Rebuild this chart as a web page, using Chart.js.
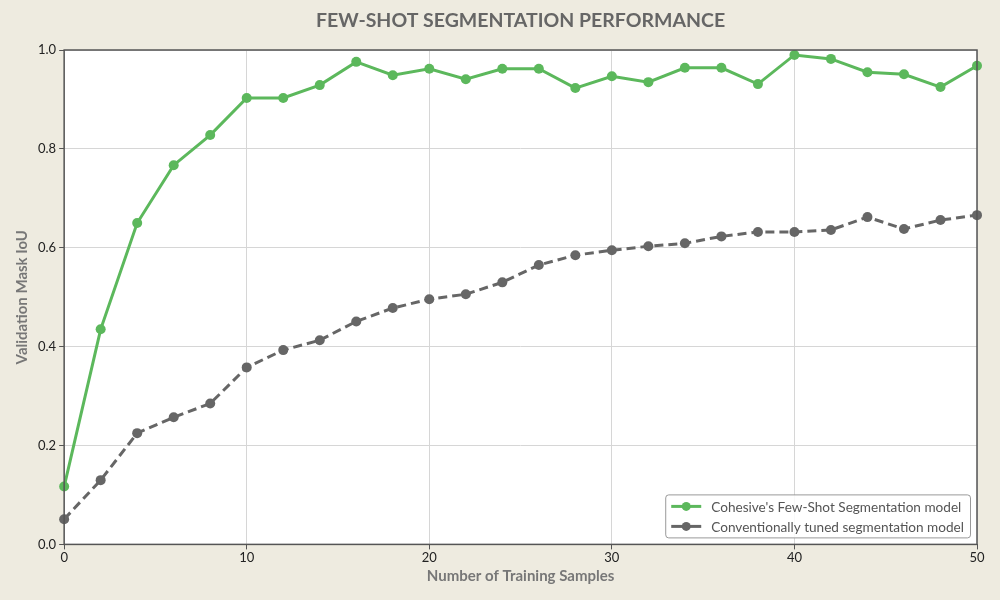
<!DOCTYPE html>
<html>
<head>
<meta charset="utf-8">
<script src="https://cdn.jsdelivr.net/npm/chart.js@4.4.1/dist/chart.umd.min.js"></script>
<style>
  html, body { margin: 0; padding: 0; background: #eeebe0; }
  #wrap { width: 1000px; height: 600px; }
</style>
</head>
<body>
<div id="wrap"><canvas id="chart"></canvas></div>
<script>
const samples = [0, 2, 4, 6, 8, 10, 12, 14, 16, 18, 20, 22, 24, 26, 28, 30, 32, 34, 36, 38, 40, 42, 44, 46, 48, 50];
const fewShot = [0.117, 0.435, 0.650, 0.767, 0.828, 0.903, 0.903, 0.929, 0.976, 0.949, 0.962, 0.941, 0.962,
    0.962, 0.923, 0.947, 0.935, 0.964, 0.964, 0.931, 0.990, 0.982, 0.955, 0.951, 0.925, 0.968];
const conventional = [0.051, 0.130, 0.225, 0.257, 0.285, 0.358, 0.393, 0.413, 0.451, 0.478, 0.496, 0.506, 0.530,
    0.565, 0.585, 0.595, 0.603, 0.609, 0.623, 0.632, 0.632, 0.636, 0.662, 0.638, 0.656, 0.666];
const seriesNames = ["Cohesive's Few-Shot Segmentation model", 'Conventionally tuned segmentation model'];
const chartTitle = 'FEW-SHOT SEGMENTATION PERFORMANCE';

const GREEN = '#5cb85c';
const GREY = '#666666';
const FONT = 'Lato, "Open Sans", sans-serif';

const toPoints = (ys) => samples.map((x, i) => ({ x: x, y: ys[i] }));

// white plot area, dark frame and a title centred over the plot
const plotFrame = {
    id: 'plotFrame',
    beforeDraw(chart) {
        const { ctx, chartArea: a } = chart;
        ctx.save();
        ctx.fillStyle = '#ffffff';
        ctx.fillRect(a.left, a.top, a.right - a.left, a.bottom - a.top);
        ctx.restore();
    },
    afterDraw(chart) {
        const { ctx, chartArea: a } = chart;
        ctx.save();
        ctx.strokeStyle = '#555555';
        ctx.lineWidth = 1.5;
        ctx.strokeRect(a.left, a.top, a.right - a.left, a.bottom - a.top);
        ctx.fillStyle = '#666666';
        ctx.font = 'bold 19.5px ' + FONT;
        ctx.textAlign = 'center';
        ctx.textBaseline = 'middle';
        ctx.fillText(chartTitle, (a.left + a.right) / 2, 21);
        ctx.restore();
    }
};

// legend drawn inside the plot, lower right
const innerLegend = {
    id: 'innerLegend',
    afterDraw(chart) {
        const { ctx, chartArea: a } = chart;
        const sets = chart.data.datasets;
        ctx.save();
        ctx.font = '13.6px ' + FONT;
        let w = 0;
        sets.forEach(d => { w = Math.max(w, ctx.measureText(d.label).width); });
        const rowH = 20, padX = 6, sample = 30, gap = 10;
        const boxW = padX + sample + gap + w + 6;
        const boxH = sets.length * rowH + 3;
        const x0 = a.right - 7 - boxW;
        const y0 = a.bottom - 7 - boxH;
        ctx.fillStyle = 'rgba(255,255,255,0.85)';
        ctx.strokeStyle = '#999999';
        ctx.lineWidth = 1;
        ctx.beginPath();
        ctx.roundRect(x0 + 0.5, y0 + 0.5, boxW, boxH, 3);
        ctx.fill();
        ctx.stroke();
        sets.forEach((d, i) => {
            const cy = y0 + 2 + rowH * i + rowH / 2;
            ctx.strokeStyle = d.borderColor;
            ctx.lineWidth = 3;
            ctx.beginPath();
            ctx.moveTo(x0 + padX, cy);
            ctx.lineTo(x0 + padX + sample, cy);
            ctx.stroke();
            ctx.fillStyle = d.borderColor;
            ctx.beginPath();
            ctx.arc(x0 + padX + sample / 2, cy, 4.5, 0, Math.PI * 2);
            ctx.fill();
            ctx.fillStyle = '#555555';
            ctx.textBaseline = 'middle';
            ctx.fillText(d.label, x0 + padX + sample + gap, cy + 1);
        });
        ctx.restore();
    }
};

new Chart(document.getElementById('chart'), {
    type: 'line',
    data: {
        datasets: [{
            label: seriesNames[0],
            data: toPoints(fewShot),
            borderColor: GREEN,
            backgroundColor: GREEN,
            borderWidth: 3,
            pointRadius: 5,
            pointHoverRadius: 5,
            pointBorderWidth: 0,
            tension: 0
        }, {
            label: seriesNames[1],
            data: toPoints(conventional),
            borderColor: GREY,
            backgroundColor: GREY,
            borderWidth: 3,
            borderDash: [9, 5],
            pointRadius: 5,
            pointHoverRadius: 5,
            pointBorderWidth: 0,
            tension: 0
        }]
    },
    options: {
        responsive: true,
        maintainAspectRatio: false,
        animation: false,
        clip: false,
        layout: { padding: { top: 50, right: 23, left: 9, bottom: 11 } },
        plugins: {
            legend: { display: false },
            tooltip: { enabled: false },
            title: { display: false }
        },
        scales: {
            x: {
                type: 'linear',
                min: 0,
                max: 50,
                ticks: { stepSize: 10, color: '#222222', font: { family: FONT, size: 13 }, padding: 1 },
                grid: { color: '#d6d6d6', tickLength: 5, tickColor: '#555555' },
                border: { display: false },
                title: {
                    display: true,
                    text: 'Number of Training Samples',
                    color: '#777777',
                    font: { family: FONT, size: 15, weight: 'bold' },
                    padding: { top: 0 }
                }
            },
            y: {
                min: 0,
                max: 1,
                ticks: {
                    stepSize: 0.2,
                    color: '#222222',
                    font: { family: FONT, size: 13 },
                    padding: 3,
                    callback: v => v.toFixed(1)
                },
                grid: { color: '#d6d6d6', tickLength: 5, tickColor: '#555555' },
                border: { display: false },
                title: {
                    display: true,
                    text: 'Validation Mask IoU',
                    color: '#777777',
                    font: { family: FONT, size: 15, weight: 'bold' },
                    padding: { bottom: 4 }
                }
            }
        }
    },
    plugins: [plotFrame, innerLegend]
});
</script>
</body>
</html>
